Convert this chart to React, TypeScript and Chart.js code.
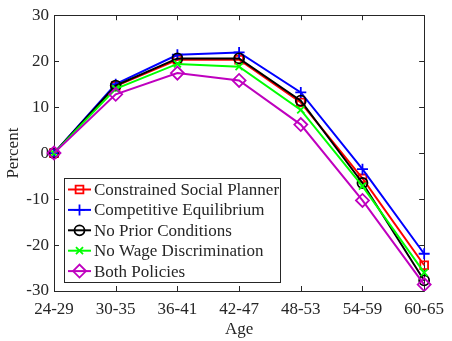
import React, { useEffect, useRef } from "react";
import { Chart, registerables } from "chart.js";
import { drawPoint } from "chart.js/helpers";

Chart.register(...registerables);

const ageGroups = ["24-29", "30-35", "36-41", "42-47", "48-53", "54-59", "60-65"];
const constrainedSocialPlanner = [0, 14.6, 20.3, 20.3, 11.0, -5.5, -24.4];
const competitiveEquilibrium = [0, 15.0, 21.4, 21.9, 13.2, -3.5, -21.9];
const noPriorConditions = [0, 14.7, 20.6, 20.6, 11.4, -6.5, -27.7];
const noWageDiscrimination = [0, 14.0, 19.4, 18.8, 9.4, -7.2, -26.0];
const bothPolicies = [0, 12.8, 17.4, 15.8, 6.2, -10.3, -28.6];
const yTicks = [-30, -20, -10, 0, 10, 20, 30];

const FONT = "'Liberation Serif', 'Times New Roman', serif";
const TEXT = "#262626";
const FS = 17;

const seriesDefs = [
  { label: "Constrained Social Planner", data: constrainedSocialPlanner, color: "#ff0000", style: "rect", radius: 5.5, order: 4 },
  { label: "Competitive Equilibrium", data: competitiveEquilibrium, color: "#0000ff", style: "cross", radius: 5.5, order: 3 },
  { label: "No Prior Conditions", data: noPriorConditions, color: "#000000", style: "circle", radius: 5, order: 2 },
  { label: "No Wage Discrimination", data: noWageDiscrimination, color: "#00ff00", style: "crossRot", radius: 5, order: 1 },
  { label: "Both Policies", data: bothPolicies, color: "#bf00bf", style: "rectRot", radius: 6.5, order: 0 },
];

const framePlugin = {
  id: "frame",
  beforeDatasetsDraw(chart: any) {
    const { ctx, chartArea } = chart;
    const { left, right, top, bottom } = chartArea;
    const xs = chart.scales.x;
    const ys = chart.scales.y;
    ctx.save();
    ctx.strokeStyle = TEXT;
    ctx.lineWidth = 1;
    ctx.beginPath();
    ctx.rect(Math.round(left) + 0.5, Math.round(top) + 0.5, Math.round(right - left), Math.round(bottom - top));
    ctx.stroke();
    const tl = 5;
    ctx.beginPath();
    for (let i = 0; i < ageGroups.length; i++) {
      const x = Math.round(xs.getPixelForValue(i)) + 0.5;
      ctx.moveTo(x, bottom);
      ctx.lineTo(x, bottom - tl);
      ctx.moveTo(x, top);
      ctx.lineTo(x, top + tl);
    }
    for (const v of yTicks) {
      const y = Math.round(ys.getPixelForValue(v)) + 0.5;
      ctx.moveTo(left, y);
      ctx.lineTo(left + tl, y);
      ctx.moveTo(right, y);
      ctx.lineTo(right - tl, y);
    }
    ctx.stroke();
    ctx.restore();
  },
  afterDraw(chart: any) {
    const { ctx, chartArea } = chart;
    const { left } = chartArea;
    ctx.save();
    ctx.fillStyle = TEXT;
    ctx.font = `${FS}px ${FONT}`;
    ctx.textAlign = "center";
    ctx.textBaseline = "middle";
    ctx.fillText("Age", (chartArea.left + chartArea.right) / 2, 330);
    ctx.save();
    ctx.translate(14, (chartArea.top + chartArea.bottom) / 2);
    ctx.rotate(-Math.PI / 2);
    ctx.fillText("Percent", 0, 0);
    ctx.restore();

    // legend
    const bx = left + 10;
    const by = 178;
    const bw = 216;
    const bh = 104;
    ctx.fillStyle = "#ffffff";
    ctx.fillRect(bx, by, bw, bh);
    ctx.strokeStyle = TEXT;
    ctx.lineWidth = 1;
    ctx.strokeRect(Math.round(bx) + 0.5, by + 0.5, bw, bh);
    ctx.textAlign = "left";
    ctx.font = `${FS}px ${FONT}`;
    seriesDefs.forEach((s, i) => {
      const cy = 189.5 + i * 20.4;
      ctx.strokeStyle = s.color;
      ctx.lineWidth = 2;
      ctx.beginPath();
      ctx.moveTo(bx + 4, cy);
      ctx.lineTo(bx + 27, cy);
      ctx.stroke();
      ctx.fillStyle = "rgba(0,0,0,0)";
      ctx.strokeStyle = s.color;
      ctx.lineWidth = 1.8;
      drawPoint(ctx, { pointStyle: s.style, radius: s.radius, rotation: 0, borderWidth: 1.8 } as any, bx + 15.5, cy);
      ctx.fillStyle = TEXT;
      ctx.fillText(s.label, bx + 30, cy + 1);
    });
    ctx.restore();
  },
};

export default function App() {
  const canvasRef = useRef<HTMLCanvasElement | null>(null);

  useEffect(() => {
    document.body.style.margin = "0";
    const canvas = canvasRef.current;
    if (!canvas) return;
    const chart = new Chart(canvas, {
      type: "line",
      data: {
        labels: ageGroups,
        datasets: seriesDefs.map((s) => ({
          label: s.label,
          data: s.data,
          borderColor: s.color,
          backgroundColor: "rgba(0,0,0,0)",
          pointBorderColor: s.color,
          pointBackgroundColor: "rgba(0,0,0,0)",
          pointStyle: s.style as any,
          pointRadius: s.radius,
          pointBorderWidth: 1.8,
          borderWidth: 2,
          tension: 0,
          fill: false,
          order: s.order,
        })),
      },
      options: {
        animation: false,
        responsive: false,
        devicePixelRatio: 1,
        layout: { padding: { top: 14, right: 21, left: 0, bottom: 0 } },
        plugins: {
          legend: { display: false },
          tooltip: { enabled: false },
        },
        scales: {
          x: {
            type: "category",
            offset: false,
            grid: { display: false, drawTicks: false },
            border: { display: false },
            ticks: {
              color: TEXT,
              font: { family: FONT, size: FS },
              padding: 8,
              maxRotation: 0,
              autoSkip: false,
            },
            afterFit(scale: any) {
              scale.height = 50;
            },
          },
          y: {
            min: -30,
            max: 30,
            grid: { display: false, drawTicks: false },
            border: { display: false },
            ticks: {
              stepSize: 10,
              color: TEXT,
              font: { family: FONT, size: FS },
              padding: 5,
            },
            afterFit(scale: any) {
              scale.width = 54;
            },
          },
        },
      },
      plugins: [framePlugin],
    });
    return () => chart.destroy();
  }, []);

  return <canvas ref={canvasRef} width={452} height={341} style={{ display: "block", width: 452, height: 341 }} />;
}
